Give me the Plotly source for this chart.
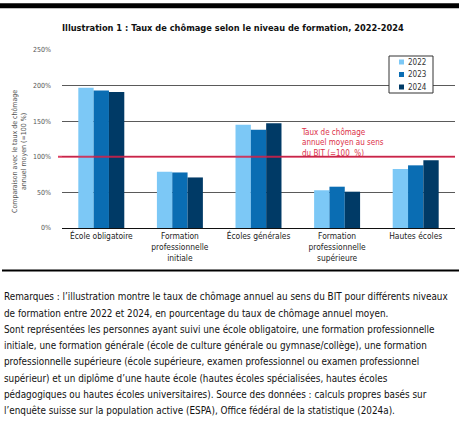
import plotly.graph_objects as go

categories = ["École obligatoire", "Formation<br>professionnelle<br>initiale", "Écoles générales",
              "Formation<br>professionnelle<br>supérieure", "Hautes écoles"]
years = ["2022", "2023", "2024"]
values_2022 = [197, 79, 145, 53, 83]
values_2023 = [193, 78, 138, 58, 88]
values_2024 = [191, 71, 147, 51, 95]
colors = ["#7cc8f6", "#0a6db3", "#003a66"]
y_ticks = [0, 50, 100, 150, 200, 250]
y_tick_labels = ["0%", "50%", "100%", "150%", "200%", "250%"]
reference_level = 100

notes = [
    "Remarques : l’illustration montre le taux de chômage annuel au sens du BIT pour différents niveaux",
    "de formation entre 2022 et 2024, en pourcentage du taux de chômage annuel moyen.",
    "Sont représentées les personnes ayant suivi une école obligatoire, une formation professionnelle",
    "initiale, une formation générale (école de culture générale ou gymnase/collège), une formation",
    "professionnelle supérieure (école supérieure, examen professionnel ou examen professionnel",
    "supérieur) et un diplôme d’une haute école (hautes écoles spécialisées, hautes écoles",
    "pédagogiques ou hautes écoles universitaires). Source des données : calculs propres basés sur",
    "l’enquête suisse sur la population active (ESPA), Office fédéral de la statistique (2024a).",
]

FONT = "Liberation Sans Narrow, DejaVu Sans Condensed, sans-serif"

W, H = 459, 422
L, R, T, B = 62, 4, 50, 194
PH = H - T - B
PW = W - L - R

def py(pix):
    return (H - B - pix) / PH

def px(pix):
    return (pix - L) / PW

fig = go.Figure()
for yr, vals, col in zip(years, [values_2022, values_2023, values_2024], colors):
    fig.add_trace(go.Bar(x=categories, y=vals, name=yr, marker=dict(color=col, line_width=0),
                         hoverinfo="skip"))

fig.update_layout(
    width=W, height=H,
    margin=dict(l=L, r=R, t=T, b=B, autoexpand=False),
    paper_bgcolor="white", plot_bgcolor="white",
    barmode="group", bargap=0.415, bargroupgap=0,
    font=dict(family=FONT, color="#333"),
    showlegend=False,
    xaxis=dict(showgrid=False, showline=True, linecolor="#111", linewidth=1,
               tickfont=dict(size=8.4, color="#222"), ticks="", fixedrange=True),
    yaxis=dict(range=[0, 250], tickvals=y_ticks, ticktext=y_tick_labels,
               showgrid=True, gridcolor="#5a5a5a", gridwidth=1, zeroline=False,
               showline=False, ticks="", ticklabelstandoff=10, fixedrange=True,
               tickfont=dict(size=7, color="#555")),
)

# y-axis title (placed as annotation to match the lower-centred position)
fig.add_annotation(xref="paper", yref="paper", x=px(19), y=py(152), xanchor="center", yanchor="middle",
                   text="Comparaison avec le taux de chômage<br>annuel moyen (=100 %)", textangle=-90,
                   showarrow=False, font=dict(size=7, color="#555"))

# legend box (drawn manually for compact spacing)
lx0, lx1, ly0, ly1 = 389, 433, 56, 93
fig.add_shape(type="rect", xref="paper", yref="paper", x0=px(lx0), x1=px(lx1), y0=py(ly1), y1=py(ly0),
              fillcolor="white", line=dict(color="#333", width=1), layer="above")
for i, (yr, col) in enumerate(zip(years, colors)):
    cy = 62 + i * 12.5
    fig.add_shape(type="rect", xref="paper", yref="paper", x0=px(399), x1=px(404), y0=py(cy + 2.5),
                  y1=py(cy - 2.5), fillcolor=col, line_width=0, layer="above")
    fig.add_annotation(xref="paper", yref="paper", x=px(406), y=py(cy), xanchor="left", yanchor="middle",
                       text=yr, showarrow=False, font=dict(size=8, color="#333"))

# reference line at 100 %
fig.add_shape(type="line", xref="paper", yref="y", x0=px(58), x1=1, y0=reference_level, y1=reference_level,
              line=dict(color="rgba(215,30,70,0.85)", width=2), layer="above")

fig.add_annotation(xref="paper", yref="paper", x=px(299), y=py(125), xanchor="left", yanchor="top",
                   text="Taux de chômage<br>annuel moyen au sens<br>du BIT (=100  %)", showarrow=False,
                   align="left", font=dict(size=8, color="#dc3048"))

# title
fig.add_annotation(xref="paper", yref="paper", x=px(60), y=py(27), xanchor="left", yanchor="middle",
                   text="<b>Illustration 1 : Taux de chômage selon le niveau de formation, 2022-2024</b>",
                   showarrow=False, font=dict(size=9.2, color="#111"))

# black rules
fig.add_shape(type="rect", xref="paper", yref="paper", x0=px(0), x1=px(W), y0=py(8.3), y1=py(3.3),
              fillcolor="#000", line_width=0)
fig.add_shape(type="rect", xref="paper", yref="paper", x0=px(2), x1=px(W), y0=py(271.5), y1=py(269.5),
              fillcolor="#000", line_width=0)

for i, line in enumerate(notes):
    fig.add_annotation(xref="paper", yref="paper", x=px(2), y=py(296.7 + i * 16.3),
                       xanchor="left", yanchor="middle", text=line, showarrow=False,
                       font=dict(size=9.85, color="#111"))

fig.write_html("out.html", config={"displayModeBar": False, "staticPlot": True},
               post_script="document.body.style.margin='0px';")
